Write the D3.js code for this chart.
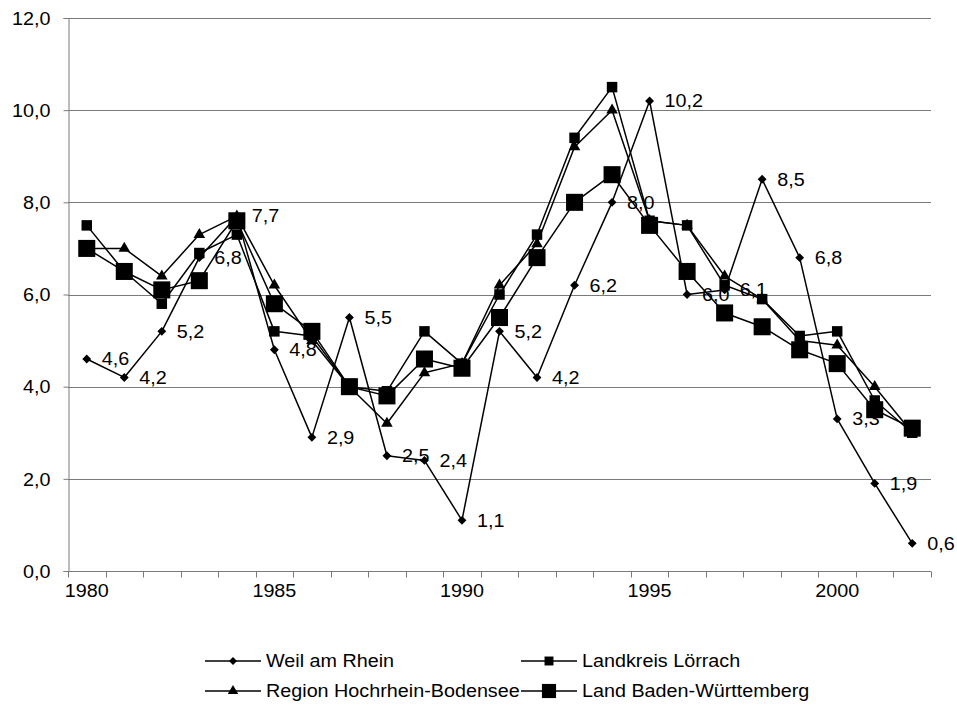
<!DOCTYPE html>
<html>
<head>
<meta charset="utf-8">
<script src="https://cdn.jsdelivr.net/npm/d3@7"></script>
<style>
  html, body { margin: 0; padding: 0; background: #fff; }
  svg { display: block; font-family: "Liberation Sans", Arial, sans-serif; }
</style>
</head>
<body>
<svg id="chart" width="957" height="709"></svg>
<script>
// Jahre (Kategorien der x-Achse)
const years = [1980,1981,1982,1983,1984,1985,1986,1987,1988,1989,1990,1991,1992,1993,1994,1995,1996,1997,1998,1999,2000,2001,2002];
const yearLabels = [1980,1985,1990,1995,2000];
const yTicks = [0,2,4,6,8,10,12];

// Werte je Reihe
const weil      = [4.6,4.2,5.2,6.8,7.7,4.8,2.9,5.5,2.5,2.4,1.1,5.2,4.2,6.2,8.0,10.2,6.0,6.1,8.5,6.8,3.3,1.9,0.6];
const landkreis = [7.5,6.5,5.8,6.9,7.3,5.2,5.1,4.0,3.9,5.2,4.5,6.0,7.3,9.4,10.5,7.6,7.5,6.2,5.9,5.1,5.2,3.7,3.0];
const region    = [7.0,7.0,6.4,7.3,7.7,6.2,5.0,4.0,3.2,4.3,4.5,6.2,7.1,9.2,10.0,7.6,7.5,6.4,5.9,5.0,4.9,4.0,3.0];
const land      = [7.0,6.5,6.1,6.3,7.6,5.8,5.2,4.0,3.8,4.6,4.4,5.5,6.8,8.0,8.6,7.5,6.5,5.6,5.3,4.8,4.5,3.5,3.1];

const seriesNames = ["Weil am Rhein","Landkreis Lörrach","Region Hochrhein-Bodensee","Land Baden-Württemberg"];

const series = [
  { name: seriesNames[0], values: weil,      symbol: d3.symbolDiamond2, size: 50,  legendSize: 40,  labels: true },
  { name: seriesNames[1], values: landkreis, symbol: d3.symbolSquare,   size: 110, legendSize: 80,  labels: false },
  { name: seriesNames[2], values: region,    symbol: d3.symbolTriangle, size: 58,  legendSize: 48,  labels: false },
  { name: seriesNames[3], values: land,      symbol: d3.symbolSquare,   size: 290, legendSize: 200, labels: false }
];

// Schrift: etwas breit laufende Grotesk
const FS = 17.5, SX = 1.13;

const svg = d3.select("#chart");
const plot = { left: 68, right: 931, top: 18, bottom: 571 };

const x = d3.scaleBand().domain(years).range([plot.left, plot.right]);
const y = d3.scaleLinear().domain([0, 12]).range([plot.bottom, plot.top]);
const cx = v => x(v) + x.bandwidth() / 2;
const fmt = v => d3.format(".1f")(v).replace(".", ",");

function wideText(parent, tx, ty, str, anchor) {
  return parent.append("text")
    .attr("transform", `translate(${tx},${ty}) scale(${SX},1)`)
    .attr("dy", "0.36em")
    .attr("text-anchor", anchor || "start")
    .attr("font-size", FS).attr("fill", "#000")
    .text(str);
}

// Gitternetzlinien
svg.append("g")
  .selectAll("line")
  .data(yTicks.filter(t => t > 0))
  .join("line")
  .attr("x1", plot.left).attr("x2", plot.right)
  .attr("y1", d => Math.round(y(d)) + 0.5).attr("y2", d => Math.round(y(d)) + 0.5)
  .attr("stroke", "#7a7a7a").attr("stroke-width", 1);

// y-Achse
const yAxis = svg.append("g")
  .attr("transform", `translate(${plot.left + 0.5},0)`)
  .call(d3.axisLeft(y).tickValues(yTicks).tickFormat(fmt).tickSize(5).tickPadding(13));
yAxis.select(".domain").attr("stroke", "#7a7a7a");
yAxis.selectAll(".tick line").attr("stroke", "#7a7a7a");
yAxis.selectAll(".tick text").remove();
yAxis.selectAll(".tick").each(function(d) {
  wideText(d3.select(this), -18, 0, fmt(d), "end");
});

// x-Achse: Teilstriche zwischen den Kategorien
const xAxisG = svg.append("g").attr("transform", `translate(0,${plot.bottom + 0.5})`);
xAxisG.append("line")
  .attr("x1", plot.left).attr("x2", plot.right)
  .attr("stroke", "#7a7a7a");
const bounds = years.map(v => x(v)).concat([plot.right]);
xAxisG.selectAll("line.tk").data(bounds).join("line").attr("class", "tk")
  .attr("x1", d => Math.round(d) + 0.5).attr("x2", d => Math.round(d) + 0.5)
  .attr("y1", 0).attr("y2", 6)
  .attr("stroke", "#7a7a7a");
yearLabels.forEach(v => wideText(xAxisG, cx(v), 19, v, "middle"));

// Reihen: Linie, Marker, ggf. Datenbeschriftung
const line = d3.line().x((d, i) => cx(years[i])).y(d => y(d));

series.forEach(s => {
  const g = svg.append("g");
  g.append("path")
    .attr("d", line(s.values))
    .attr("fill", "none").attr("stroke", "#000").attr("stroke-width", 1.5)
    .attr("stroke-linejoin", "round");
  g.selectAll("path.m").data(s.values).join("path").attr("class", "m")
    .attr("d", d3.symbol().type(s.symbol).size(s.size))
    .attr("transform", (d, i) => `translate(${cx(years[i])},${y(d)})`)
    .attr("fill", "#000");
  if (s.labels) {
    s.values.forEach((v, i) => wideText(g, cx(years[i]) + 15, y(v), fmt(v)));
  }
});

// Legende
const legendItems = [
  { s: series[0], lx: 205, ly: 661 },
  { s: series[1], lx: 521, ly: 661 },
  { s: series[2], lx: 205, ly: 691 },
  { s: series[3], lx: 521, ly: 691 }
];
const leg = svg.append("g");
legendItems.forEach(it => {
  const lg = leg.append("g").attr("transform", `translate(${it.lx},${it.ly})`);
  lg.append("line").attr("x1", 0).attr("x2", 56).attr("y1", 0).attr("y2", 0)
    .attr("stroke", "#000").attr("stroke-width", 1.5);
  lg.append("path")
    .attr("d", d3.symbol().type(it.s.symbol).size(it.s.legendSize)())
    .attr("transform", "translate(28,0)").attr("fill", "#000");
  wideText(lg, 61, 0, it.s.name);
});
</script>
</body>
</html>
